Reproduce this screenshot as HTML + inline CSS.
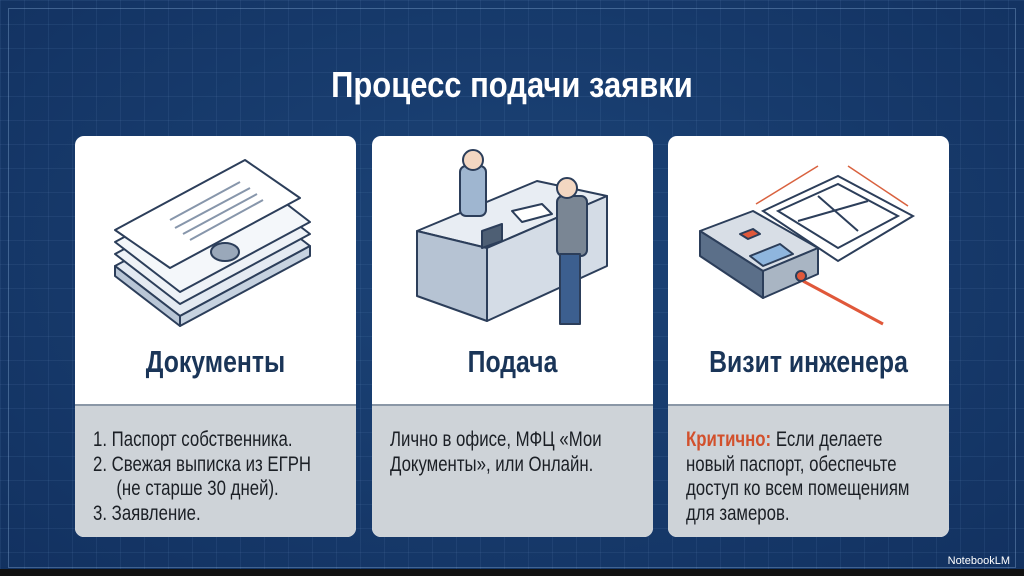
<!DOCTYPE html>
<html><head><meta charset="utf-8"><style>
*{margin:0;padding:0;box-sizing:border-box}
body{width:1024px;height:576px;overflow:hidden;background:#17396a;font-family:"Liberation Sans",sans-serif;position:relative}
.bg{position:absolute;inset:0;background:
linear-gradient(rgba(120,160,210,.10) 1px,transparent 1px) 0 0/24px 24px,
linear-gradient(90deg,rgba(120,160,210,.10) 1px,transparent 1px) 0 0/24px 24px,
radial-gradient(ellipse at 50% 45%,#1c4478,#123160);}
.frame{position:absolute;left:8px;top:8px;right:8px;bottom:8px;border:1px solid rgba(150,185,225,.35)}
h1{position:absolute;left:0;right:0;top:64px;text-align:center;color:#fff;font-size:36px;font-weight:bold;transform:scaleX(.86);white-space:nowrap}
.card{position:absolute;top:136px;width:281px;height:401px;background:#fff;border-radius:9px;overflow:hidden}
.card .t{position:absolute;top:208px;left:0;right:0;text-align:center;color:#1a3558;font-size:31px;font-weight:bold;transform:scaleX(.8);white-space:nowrap}
.card .g{position:absolute;top:268px;left:0;right:0;bottom:0;background:#ced3d8;border-top:2px solid #8a97a6}
.txt{position:absolute;left:18px;top:22px;color:#1b1f25;font-size:21px;line-height:24.5px;white-space:nowrap;transform:scaleX(.8);transform-origin:0 0}
.card svg{position:absolute;left:0;top:0}
.nb{position:absolute;right:14px;bottom:9px;color:#fff;font-size:11px}
.bar{position:absolute;left:0;right:0;bottom:0;height:7px;background:#111}
</style></head><body>
<div class="bg"></div><div class="frame"></div>
<h1>Процесс подачи заявки</h1>

<div class="card" style="left:75px">
<svg width="281" height="270" viewBox="0 0 281 270">
<g stroke="#2c3e5a" stroke-width="2" stroke-linejoin="round">
<polygon points="40,130 170,60 235,110 105,180" fill="#e4eaf2"/>
<polygon points="40,130 105,180 105,190 40,140" fill="#b9c6d6"/>
<polygon points="105,180 235,110 235,120 105,190" fill="#c6d2e0"/>
<polygon points="40,118 170,48 235,98 105,168" fill="#eef2f7"/>
<polygon points="40,106 170,36 235,86 105,156" fill="#f4f7fa"/>
<polygon points="40,94 170,24 225,62 95,132" fill="#fff"/>
</g>
<g stroke="#8796ab" stroke-width="2"><line x1="95" y1="84" x2="165" y2="46"/><line x1="100" y1="92" x2="175" y2="52"/><line x1="108" y1="98" x2="182" y2="58"/><line x1="115" y1="104" x2="188" y2="64"/></g>
<ellipse cx="150" cy="116" rx="14" ry="9" fill="#9aa8ba" stroke="#2c3e5a" stroke-width="2"/>
</svg>
<div class="t">Документы</div>
<div class="g"><div class="txt">1. Паспорт собственника.<br>2. Свежая выписка из ЕГРН<br>&nbsp;&nbsp;&nbsp;&nbsp;&nbsp;(не старше 30 дней).<br>3. Заявление.</div></div>
</div>

<div class="card" style="left:372px">
<svg width="281" height="270" viewBox="0 0 281 270">
<g stroke="#2c3e5a" stroke-width="2" stroke-linejoin="round">
<polygon points="45,95 165,45 235,60 115,112" fill="#e8edf3"/>
<polygon points="45,95 115,112 115,185 45,160" fill="#b6c3d3"/>
<polygon points="115,112 235,60 235,130 115,185" fill="#d4dce6"/>
<rect x="88" y="30" width="26" height="50" rx="6" fill="#9fb6d0"/>
<circle cx="101" cy="24" r="10" fill="#f3d7c2"/>
<rect x="185" y="60" width="30" height="60" rx="6" fill="#7a8694"/>
<circle cx="195" cy="52" r="10" fill="#f3d7c2"/>
<rect x="188" y="118" width="20" height="70" fill="#3c5f8f"/>
<polygon points="110,95 130,88 130,105 110,112" fill="#4e5f74"/>
<polygon points="140,75 170,68 180,78 150,86" fill="#fff"/>
</g>
</svg>
<div class="t">Подача</div>
<div class="g"><div class="txt">Лично в офисе, МФЦ «Мои<br>Документы», или Онлайн.</div></div>
</div>

<div class="card" style="left:668px">
<svg width="281" height="270" viewBox="0 0 281 270">
<g stroke="#2c3e5a" stroke-width="2" fill="none">
<polygon points="95,75 170,40 245,80 170,125" fill="#fff"/>
<polygon points="110,75 170,48 230,80 170,112"/>
<line x1="150" y1="60" x2="190" y2="95"/><line x1="130" y1="85" x2="200" y2="65"/>
</g>
<g stroke="#d9623f" stroke-width="1.5"><line x1="88" y1="68" x2="150" y2="30"/><line x1="180" y1="30" x2="240" y2="70"/></g>
<line x1="135" y1="145" x2="215" y2="188" stroke="#e0583a" stroke-width="3"/>
<g stroke="#2c3e5a" stroke-width="2" stroke-linejoin="round">
<polygon points="32,95 85,75 150,112 95,135" fill="#d8dee6"/>
<polygon points="32,95 95,135 95,162 32,120" fill="#5b6f89"/>
<polygon points="95,135 150,112 150,138 95,162" fill="#a9b5c3"/>
<polygon points="82,120 112,108 125,118 95,130" fill="#8fb6de"/>
<polygon points="72,98 85,93 92,98 80,103" fill="#e0583a"/>
<circle cx="133" cy="140" r="5" fill="#e0583a"/>
</g>
</svg>
<div class="t">Визит инженера</div>
<div class="g"><div class="txt"><b style="color:#d2502c">Критично:</b> Если делаете<br>новый паспорт, обеспечьте<br>доступ ко всем помещениям<br>для замеров.</div></div>
</div>

<div class="nb">NotebookLM</div>
<div class="bar"></div>
</body></html>
